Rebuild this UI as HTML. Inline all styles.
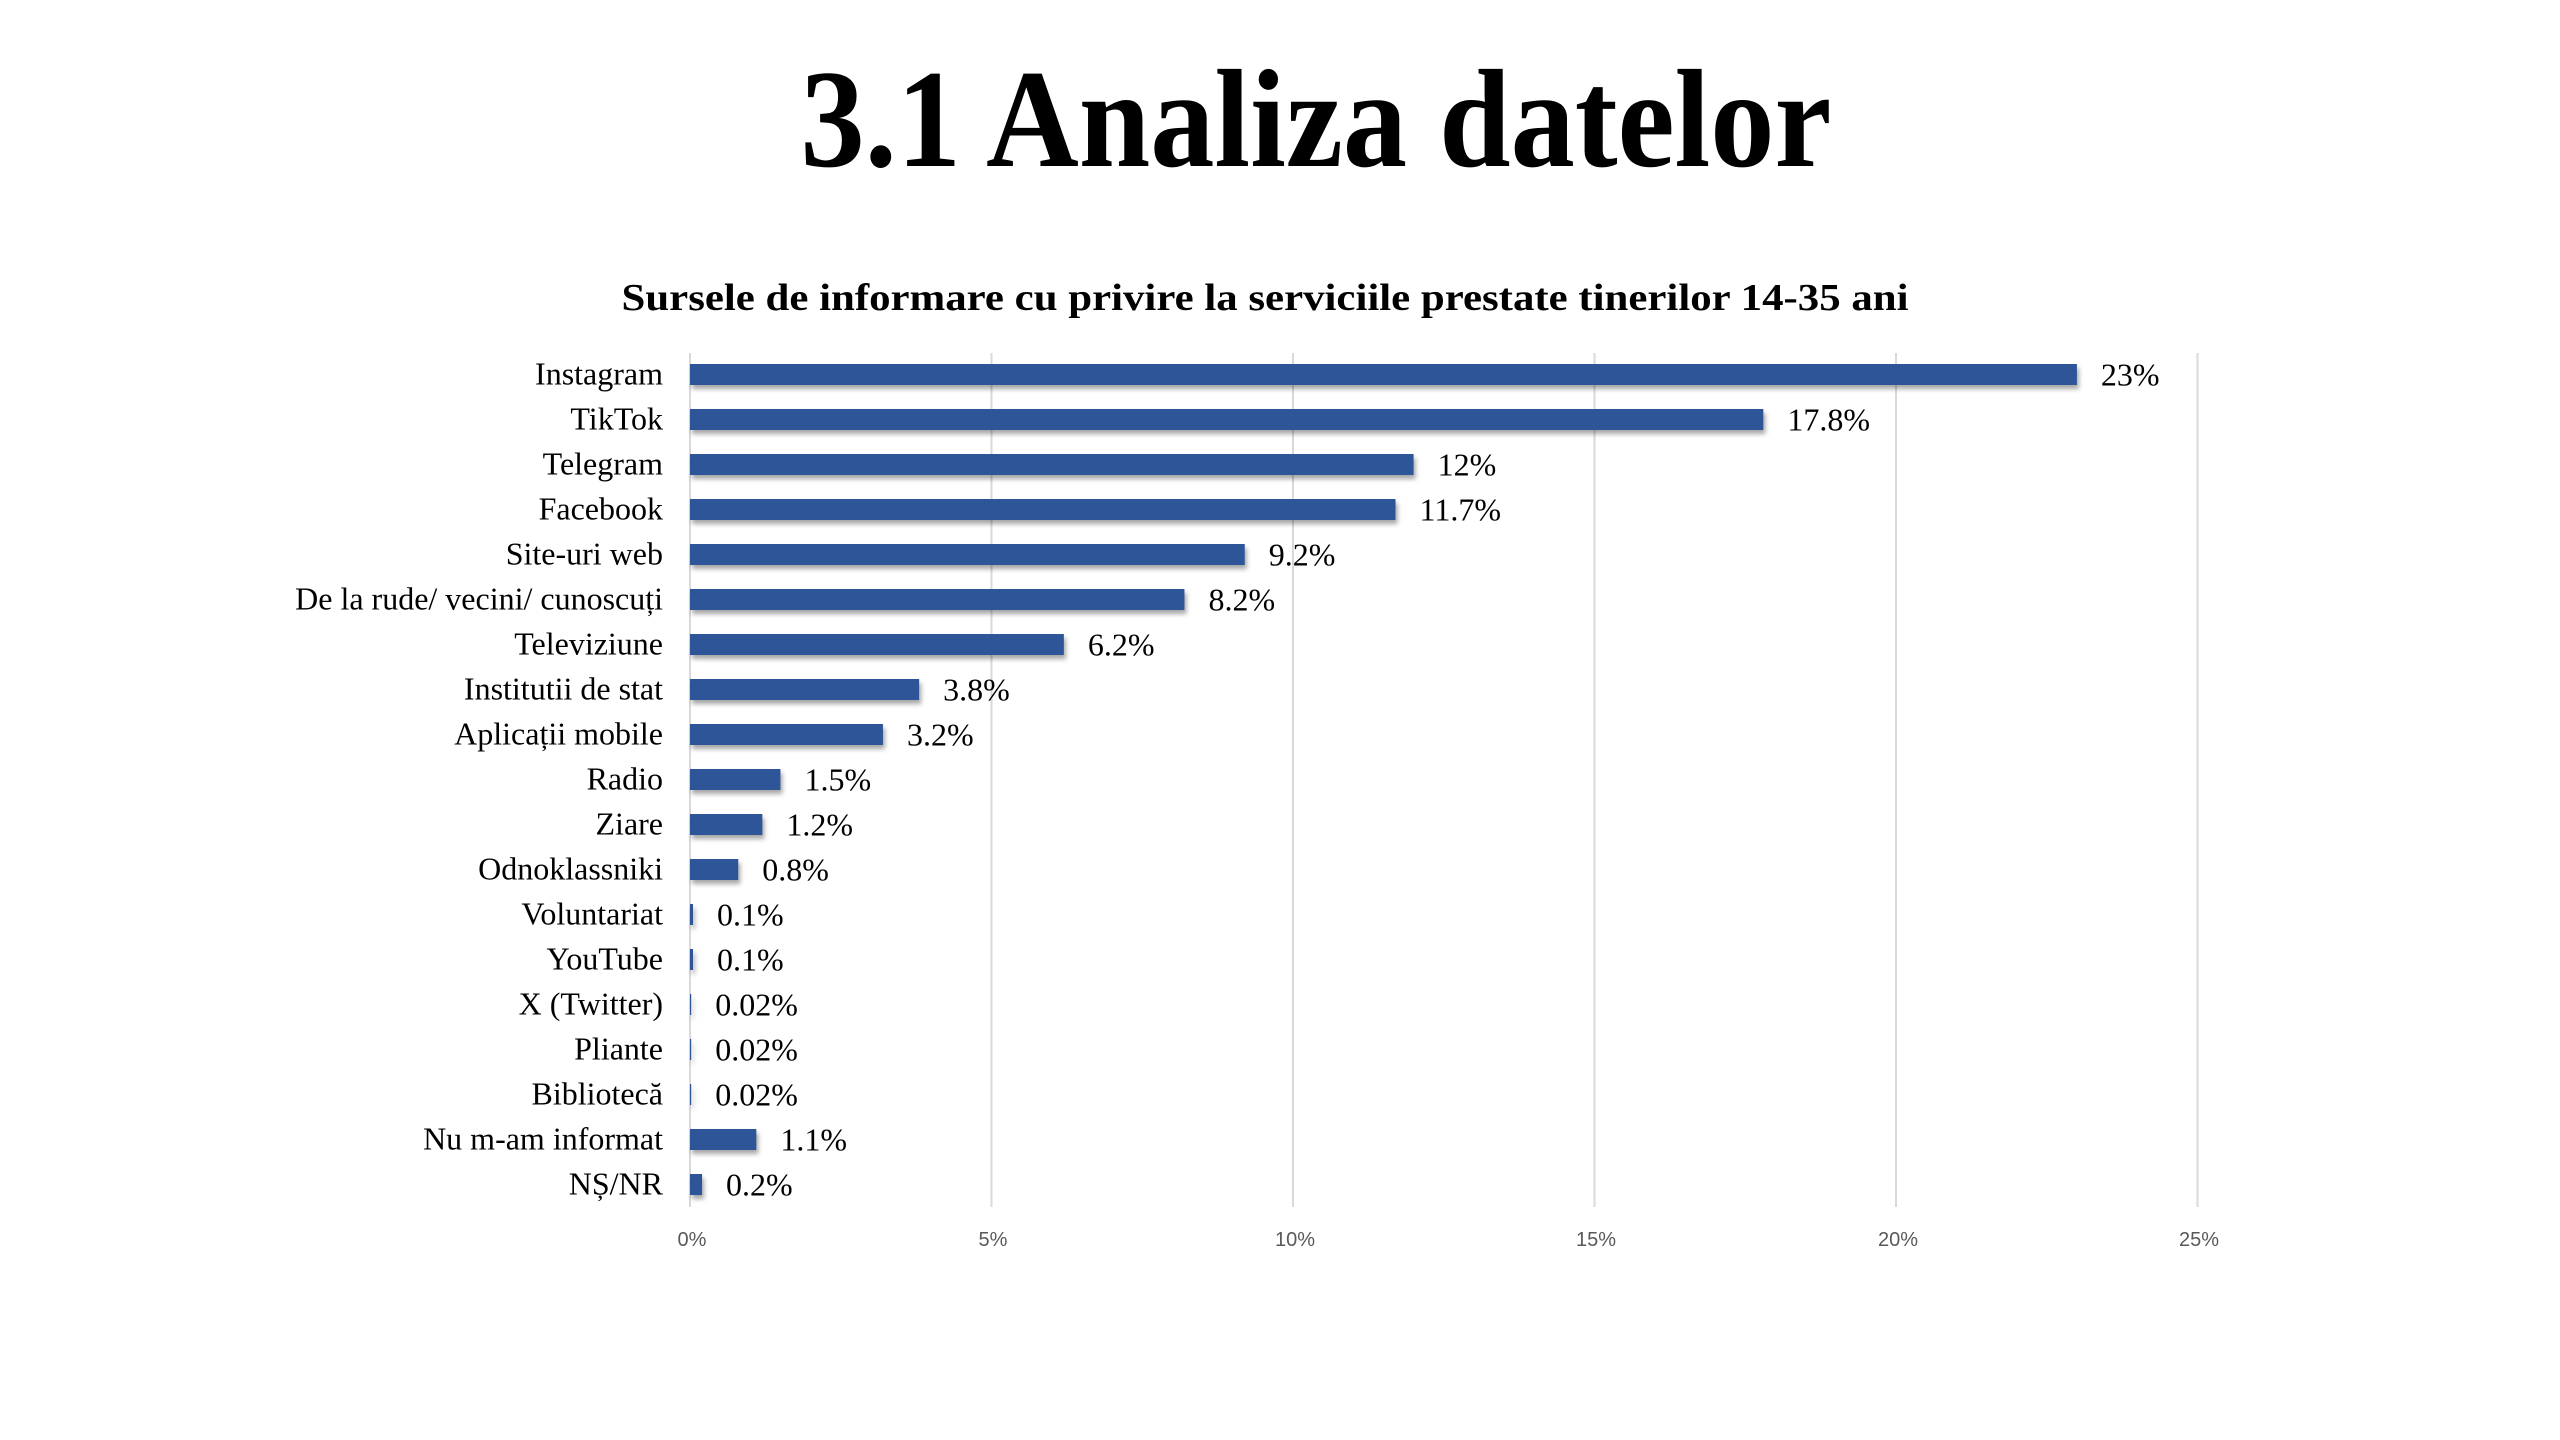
<!DOCTYPE html>
<html><head><meta charset="utf-8"><style>html,body{margin:0;padding:0;background:#fff;}svg{display:block}</style></head>
<body>
<svg width="2560" height="1440" viewBox="0 0 2560 1440" xmlns="http://www.w3.org/2000/svg">
<defs><filter id="sh" x="-5%" y="-20%" width="110%" height="160%"><feDropShadow dx="2" dy="4" stdDeviation="2.5" flood-color="#000" flood-opacity="0.35"/></filter></defs>
<rect width="2560" height="1440" fill="#fff"/>
<text x="1316" y="166" text-anchor="middle" font-family="Liberation Serif, serif" font-weight="bold" font-size="140" textLength="1031" lengthAdjust="spacingAndGlyphs">3.1 Analiza datelor</text>
<text x="1265" y="310" text-anchor="middle" font-family="Liberation Serif, serif" font-weight="bold" font-size="38" textLength="1287" lengthAdjust="spacingAndGlyphs">Sursele de informare cu privire la serviciile prestate tinerilor 14-35 ani</text>
<g stroke="#d9d9d9" stroke-width="2">
<line x1="690" y1="353" x2="690" y2="1207"/><line x1="991.5" y1="353" x2="991.5" y2="1207"/><line x1="1293" y1="353" x2="1293" y2="1207"/><line x1="1594.5" y1="353" x2="1594.5" y2="1207"/><line x1="1896" y1="353" x2="1896" y2="1207"/><line x1="2197.5" y1="353" x2="2197.5" y2="1207"/>
</g>
<g font-family="Liberation Sans, sans-serif" font-size="20" fill="#595959" text-anchor="middle">
<text x="692" y="1246">0%</text><text x="993" y="1246">5%</text><text x="1295" y="1246">10%</text><text x="1596" y="1246">15%</text><text x="1898" y="1246">20%</text><text x="2199" y="1246">25%</text>
</g>
<g id="bars" fill="#2f5597" filter="url(#sh)"></g>
<g id="labs" font-family="Liberation Serif, serif" font-size="32" fill="#000"></g>
<script>
var d=[["Instagram",23,"23%"],["TikTok",17.8,"17.8%"],["Telegram",12,"12%"],["Facebook",11.7,"11.7%"],["Site-uri web",9.2,"9.2%"],["De la rude/ vecini/ cunoscuți",8.2,"8.2%"],["Televiziune",6.2,"6.2%"],["Institutii de stat",3.8,"3.8%"],["Aplicații mobile",3.2,"3.2%"],["Radio",1.5,"1.5%"],["Ziare",1.2,"1.2%"],["Odnoklassniki",0.8,"0.8%"],["Voluntariat",0.05,"0.1%"],["YouTube",0.05,"0.1%"],["X (Twitter)",0.02,"0.02%"],["Pliante",0.02,"0.02%"],["Bibliotecă",0.02,"0.02%"],["Nu m-am informat",1.1,"1.1%"],["NȘ/NR",0.2,"0.2%"]];
var ns="http://www.w3.org/2000/svg",b=document.getElementById("bars"),l=document.getElementById("labs");
d.forEach(function(r,i){var cy=374.5+i*45,w=r[1]*60.3;
var re=document.createElementNS(ns,"rect");re.setAttribute("x",690);re.setAttribute("y",cy-10.5);re.setAttribute("width",Math.max(w,1));re.setAttribute("height",21);b.appendChild(re);
var t=document.createElementNS(ns,"text");t.setAttribute("x",663);t.setAttribute("y",cy+10);t.setAttribute("text-anchor","end");t.textContent=r[0];l.appendChild(t);
var v=document.createElementNS(ns,"text");v.setAttribute("x",690+Math.max(w,1)+24);v.setAttribute("y",cy+11);v.textContent=r[2];l.appendChild(v);});
</script>
</svg>
</body></html>
